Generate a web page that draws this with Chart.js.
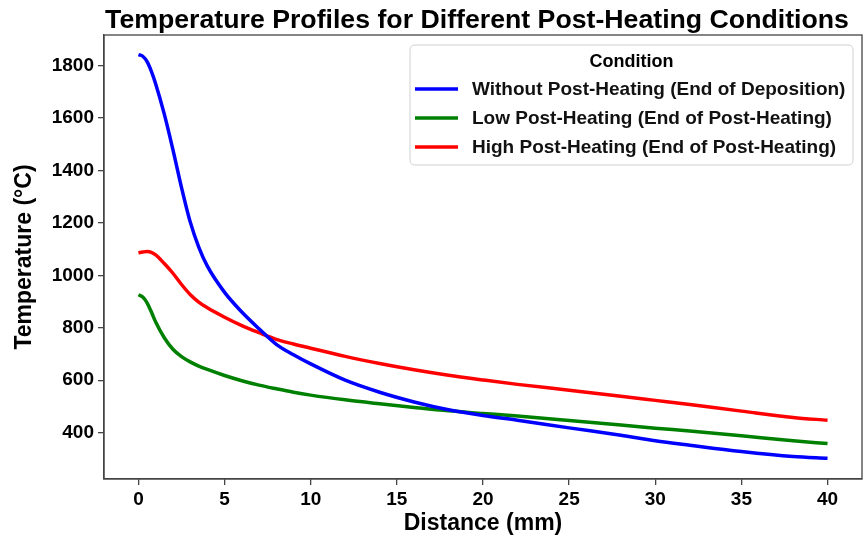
<!DOCTYPE html>
<html>
<head>
<meta charset="utf-8">
<script src="https://cdn.jsdelivr.net/npm/chart.js@4.4.1/dist/chart.umd.min.js"></script>
<style>
  html, body { margin: 0; padding: 0; background: #fff; }
  #wrap { width: 866px; height: 541px; }
</style>
</head>
<body>
<div id="wrap"><canvas id="chart"></canvas></div>
<script>
// distance along the track (mm)
const distance = [0, 0.25, 0.5, 0.75, 1, 1.5, 2, 2.5, 3, 3.5, 4, 5, 6, 7, 8, 9, 10,
  12, 14, 16, 18, 20, 22, 25, 28, 30, 32, 35, 38, 40];

// temperature (°C) for each condition
const withoutPost = [1842, 1836, 1815, 1778, 1730, 1615, 1480, 1335, 1205, 1108, 1035,
  935, 860, 796, 737, 697, 662, 600, 554, 517, 487, 465, 447, 418, 390, 369, 352, 328, 309, 302];
const lowPost = [926, 917, 895, 860, 822, 762, 718, 690, 670, 654, 641,
  618, 598, 581, 567, 554, 543, 525, 510, 496, 483, 473, 463, 446, 429, 417, 406, 388, 369, 358];
const highPost = [1086, 1089, 1091, 1088, 1078, 1045, 1008, 965, 927, 898, 876,
  840, 808, 781, 756, 738, 722, 691, 664, 640, 619, 601, 584, 562, 539, 523, 507, 482, 458, 447];

const seriesNames = [
  "Without Post-Heating (End of Deposition)",
  "Low Post-Heating (End of Post-Heating)",
  "High Post-Heating (End of Post-Heating)",
];
const seriesColors = ["#0000ff", "#008000", "#ff0000"];

const xTicks = [0, 5, 10, 15, 20, 25, 30, 35, 40];
const yTicks = [400, 600, 800, 1000, 1200, 1400, 1600, 1800];

const FONT = '"Liberation Sans", Arial, sans-serif';

function toPoints(vals) {
  return distance.map((d, i) => ({ x: d, y: vals[i] }));
}

// top + right spines so the plot is boxed in
const boxFrame = {
  id: "boxFrame",
  afterDatasetsDraw(c) {
    const { left, top, right, bottom } = c.chartArea;
    const ctx = c.ctx;
    ctx.save();
    ctx.strokeStyle = "#444";
    ctx.lineWidth = 1.3;
    ctx.strokeRect(left, top, right - left, bottom - top);
    ctx.restore();
  },
};

const plotTitle = {
  id: "plotTitle",
  afterDraw(c) {
    const ctx = c.ctx;
    const ca = c.chartArea;
    ctx.save();
    ctx.font = "bold 26.7px " + FONT;
    ctx.fillStyle = "#000";
    ctx.textAlign = "center";
    ctx.textBaseline = "alphabetic";
    ctx.fillText("Temperature Profiles for Different Post-Heating Conditions",
      (ca.left + ca.right) / 2 - 6, 28);
    ctx.restore();
  },
};

// legend with a rounded frame in the upper right of the plot
const frameLegend = {
  id: "frameLegend",
  afterDraw(c) {
    const ctx = c.ctx;
    const ca = c.chartArea;
    const w = 443, h = 120;
    const x = ca.right - 9 - w;
    const y = ca.top + 10;
    const r = 5;

    ctx.save();
    ctx.beginPath();
    ctx.moveTo(x + r, y);
    ctx.lineTo(x + w - r, y);
    ctx.quadraticCurveTo(x + w, y, x + w, y + r);
    ctx.lineTo(x + w, y + h - r);
    ctx.quadraticCurveTo(x + w, y + h, x + w - r, y + h);
    ctx.lineTo(x + r, y + h);
    ctx.quadraticCurveTo(x, y + h, x, y + h - r);
    ctx.lineTo(x, y + r);
    ctx.quadraticCurveTo(x, y, x + r, y);
    ctx.closePath();
    ctx.fillStyle = "rgba(255,255,255,0.85)";
    ctx.fill();
    ctx.strokeStyle = "#d0d0d0";
    ctx.lineWidth = 1;
    ctx.stroke();

    ctx.fillStyle = "#000";
    ctx.textBaseline = "middle";
    ctx.font = "bold 18px " + FONT;
    ctx.textAlign = "center";
    ctx.fillText("Condition", x + w / 2, y + 17);

    ctx.textAlign = "left";
    ctx.font = "bold 19px " + FONT;
    c.data.datasets.forEach((ds, i) => {
      const ry = y + 44 + i * 29;
      ctx.beginPath();
      ctx.moveTo(x + 5, ry);
      ctx.lineTo(x + 48, ry);
      ctx.strokeStyle = ds.borderColor;
      ctx.lineWidth = 3.5;
      ctx.stroke();
      ctx.fillStyle = "#111";
      ctx.fillText(ds.label, x + 62, ry + 1);
    });
    ctx.restore();
  },
};

const axisLine = { display: true, color: "#444", width: 1.3 };
const tickMarks = {
  drawOnChartArea: false,
  drawTicks: true,
  tickLength: 6,
  color: "#444",
  lineWidth: 1.3,
};

const ctx = document.getElementById("chart").getContext("2d");

new Chart(ctx, {
  type: "line",
  data: {
    datasets: [withoutPost, lowPost, highPost].map((vals, i) => ({
      label: seriesNames[i],
      data: toPoints(vals),
      borderColor: seriesColors[i],
      backgroundColor: seriesColors[i],
      borderWidth: 3.5,
      pointRadius: 0,
      cubicInterpolationMode: "monotone",
      fill: false,
    })),
  },
  options: {
    responsive: true,
    maintainAspectRatio: false,
    animation: false,
    layout: { padding: { top: 35, right: 4, left: 0, bottom: 0 } },
    plugins: {
      legend: { display: false },
      tooltip: { enabled: false },
      title: { display: false },
    },
    scales: {
      x: {
        type: "linear",
        min: -2,
        max: 42,
        afterFit(s) { s.height = 62; },
        afterBuildTicks(s) { s.ticks = xTicks.map((v) => ({ value: v })); },
        grid: tickMarks,
        border: axisLine,
        ticks: {
          color: "#000",
          padding: 3,
          font: { family: FONT, size: 19, weight: "bold" },
          maxRotation: 0,
          callback: (v) => String(v),
        },
        title: {
          display: true,
          text: "Distance (mm)",
          color: "#000",
          font: { family: FONT, size: 23, weight: "bold" },
          padding: { top: 0, bottom: 4 },
        },
      },
      y: {
        type: "linear",
        min: 223,
        max: 1917,
        afterFit(s) { s.width = 104; },
        afterBuildTicks(s) { s.ticks = yTicks.map((v) => ({ value: v })); },
        grid: tickMarks,
        border: axisLine,
        ticks: {
          color: "#000",
          padding: 4,
          font: { family: FONT, size: 19, weight: "bold" },
          callback: (v) => String(v),
        },
        title: {
          display: true,
          text: "Temperature (°C)",
          color: "#000",
          font: { family: FONT, size: 23, weight: "bold" },
          padding: { top: 11, bottom: 0 },
        },
      },
    },
  },
  plugins: [boxFrame, plotTitle, frameLegend],
});
</script>
</body>
</html>
